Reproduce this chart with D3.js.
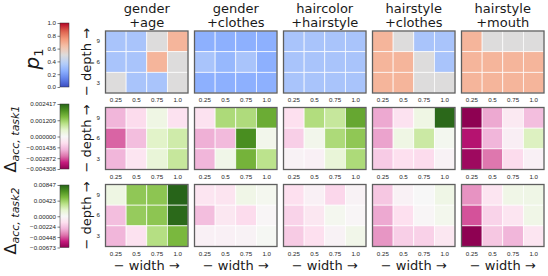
<!DOCTYPE html>
<html>
<head>
<meta charset="utf-8">
<script src="https://cdn.jsdelivr.net/npm/d3@7"></script>
<style>
  body { margin: 0; background: #fff; }
  svg { display: block; font-family: "DejaVu Sans", sans-serif; }
  .axis text { fill: #262626; font-size: 6.2px; }
  .axis .domain { display: none; }
  .cbar-axis line { stroke: #262626; stroke-width: 0.6; }
</style>
</head>
<body>
<div id="chart"></div>
<script>
// ---- data ----
const PANEL_TITLES = [
  ['gender', '+age'],
  ['gender', '+clothes'],
  ['haircolor', '+hairstyle'],
  ['hairstyle', '+clothes'],
  ['hairstyle', '+mouth']
];
const WIDTH_TICKS = ['0.25', '0.5', '0.75', '1.0'];
const DEPTH_TICKS = ['9', '6', '3']; // top -> bottom

// one matrix per panel, rows = depth 9,6,3 ; cols = width 0.25..1.0
const p1Values = [
  [[0.33, 0.33, 0.5, 0.67], [0.33, 0.33, 0.67, 0.5], [0.5, 0.33, 0.33, 0.5]],
  [[0.25, 0.25, 0.25, 0.25], [0.33, 0.28, 0.33, 0.25], [0.25, 0.25, 0.25, 0.25]],
  [[0.33, 0.33, 0.33, 0.33], [0.33, 0.33, 0.33, 0.33], [0.33, 0.33, 0.33, 0.33]],
  [[0.67, 0.5, 0.33, 0.33], [0.67, 0.67, 0.5, 0.33], [0.67, 0.67, 0.5, 0.5]],
  [[0.67, 0.5, 0.5, 0.5], [0.67, 0.67, 0.67, 0.67], [0.67, 0.67, 0.67, 0.67]]
];

const task1Values = [
  [[-0.00172, -0.00095, 0.00024, -0.00078], [-0.00276, -0.00155, 0.00053, 0.00073], [-0.00172, -0.00069, 0.00039, 0.00082]],
  [[-0.00078, 0.00106, 0.00104, 0.00164], [-0.00181, -0.00164, 0.00198, 0.00015], [-0.00172, 0.00019, 0.00155, 0.00092]],
  [[-0.00086, 0.00102, 0.00082, 0.00169], [-0.00121, 0.00015, 0.00106, 0.00131], [-0.00017, -0.00026, 0.00039, 0.00106]],
  [[-0.00190, -0.00078, 0.00024, 0.00237], [-0.00198, 0.00024, 0.00077, 0.00010], [-0.00129, -0.00086, -0.00095, -0.00017]],
  [[-0.004308, -0.00190, -0.00052, -0.00155], [-0.00370, -0.00172, -0.00034, 0.00058], [-0.00405, -0.00258, -0.00095, -0.00026]]
];

const task2Values = [
  [[0.00085, 0.00457, 0.00466, 0.00847], [-0.00242, 0.00440, 0.00466, 0.00830], [-0.00269, -0.00121, 0.00347, 0.00525]],
  [[-0.00108, -0.00114, 0.00068, 0.00034], [-0.00242, -0.00094, -0.00148, -0.00013], [-0.00040, -0.00040, -0.00027, 0.00017]],
  [[-0.00135, -0.00040, -0.00162, -0.00027], [-0.00175, -0.00094, 0.00034, -0.00013], [-0.00202, -0.00135, -0.00027, 0.00059]],
  [[-0.00215, -0.00034, 0.00000, 0.00076], [-0.00296, -0.00135, -0.00013, 0.00042], [-0.00337, -0.00188, -0.00182, -0.00094]],
  [[-0.00343, -0.00108, 0.00068, 0.00076], [-0.00458, -0.00175, -0.00108, 0.00068], [-0.00673, -0.00215, -0.00269, -0.00108]]
];

const p1CbarTicks = [0.0, 0.2, 0.4, 0.6, 0.8, 1.0];
const task1CbarTicks = [0.002417, 0.001209, 0.0, -0.001436, -0.002872, -0.004308];
const task2CbarTicks = [0.00847, 0.00423, 0.0, -0.00224, -0.00448, -0.00673];
const task1Range = [-0.004308, 0.002417];
const task2Range = [-0.00673, 0.00847];

// ---- colormaps (matplotlib coolwarm / PiYG) ----
const COOLWARM = ['#3b4cc0', '#6282ea', '#8db0fe', '#b8d0f9', '#dddcdc', '#f5c4ad', '#f49a7b', '#de604d', '#b40426'];
const PIYG = ['#8e0152', '#c51b7d', '#de77ae', '#f1b6da', '#fde0ef', '#f7f7f7', '#e6f5d0', '#b8e186', '#7fbc41', '#4d9221', '#276419'];
const coolwarm = d3.piecewise(d3.interpolateRgb, COOLWARM);
const piyg = d3.piecewise(d3.interpolateRgb, PIYG);

// ---- layout ----
const W = 548, H = 276;
const PANEL_X0 = 105.5, PANEL_STEP = 89, PANEL_W = 82.5, PANEL_H = 62;
const ROW_Y = [31, 107.5, 184.5];
const CB_X = 60, CB_W = 9;
const CB_Y = [[23, 87], [104, 169], [185, 247.5]];

const svg = d3.select('#chart').append('svg')
  .attr('width', W)
  .attr('height', H);
const defs = svg.append('defs');

const fmtMinus = s => s.replace('-', '\u2212');

const rows = [
  {
    values: p1Values,
    color: d3.scaleSequential(coolwarm).domain([0, 1]),
    interp: coolwarm,
    cbDomain: [0, 1],
    ticks: p1CbarTicks,
    fmt: d => d.toFixed(1)
  },
  {
    values: task1Values,
    color: d3.scaleDiverging(piyg).domain([task1Range[0], 0, task1Range[1]]),
    interp: piyg,
    cbDomain: [task1Range[0], 0, task1Range[1]],
    ticks: task1CbarTicks,
    fmt: d => fmtMinus(d.toFixed(6))
  },
  {
    values: task2Values,
    color: d3.scaleDiverging(piyg).domain([task2Range[0], 0, task2Range[1]]),
    interp: piyg,
    cbDomain: [task2Range[0], 0, task2Range[1]],
    ticks: task2CbarTicks,
    fmt: d => fmtMinus(d.toFixed(5))
  }
];

const x = d3.scaleBand().domain(WIDTH_TICKS).range([0, PANEL_W]);
const y = d3.scaleBand().domain(DEPTH_TICKS).range([0, PANEL_H]);

rows.forEach((row, ri) => {
  const top = ROW_Y[ri];

  row.values.forEach((mat, pi) => {
    const g = svg.append('g')
      .attr('transform', `translate(${PANEL_X0 + pi * PANEL_STEP},${top})`);

    const cells = [];
    mat.forEach((r, i) => r.forEach((v, j) => cells.push({ d: DEPTH_TICKS[i], w: WIDTH_TICKS[j], v })));

    g.selectAll('rect.cell')
      .data(cells)
      .join('rect')
      .attr('class', 'cell')
      .attr('x', d => x(d.w))
      .attr('y', d => y(d.d))
      .attr('width', x.bandwidth())
      .attr('height', y.bandwidth())
      .attr('fill', d => row.color(d.v))
      .attr('stroke', '#fff')
      .attr('stroke-opacity', 0.85)
      .attr('stroke-width', 0.8);

    g.append('rect')
      .attr('width', PANEL_W)
      .attr('height', PANEL_H)
      .attr('fill', 'none')
      .attr('stroke', '#5e5e5e')
      .attr('stroke-width', 1.3);

    g.append('g')
      .attr('class', 'axis')
      .attr('transform', `translate(0,${PANEL_H})`)
      .call(d3.axisBottom(x).tickSize(0).tickPadding(5));

    if (pi === 0) {
      g.append('g')
        .attr('class', 'axis')
        .call(d3.axisLeft(y).tickSize(0).tickPadding(5.5));
    }

    if (ri === 0) {
      PANEL_TITLES[pi].forEach((line, li) => {
        svg.append('text')
          .attr('x', PANEL_X0 + pi * PANEL_STEP + PANEL_W / 2)
          .attr('y', 12.5 + li * 14)
          .attr('text-anchor', 'middle')
          .attr('font-size', 13)
          .attr('fill', '#1a1a1a')
          .text(line);
      });
    }
    if (ri === 2) {
      svg.append('text')
        .attr('x', PANEL_X0 + pi * PANEL_STEP + PANEL_W / 2)
        .attr('y', 269.5)
        .attr('text-anchor', 'middle')
        .attr('font-size', 13)
        .attr('fill', '#1a1a1a')
        .text('\u2212 width \u2192');
    }
  });

  // depth label
  svg.append('text')
    .attr('transform', `translate(91,${top + PANEL_H / 2}) rotate(-90)`)
    .attr('text-anchor', 'middle')
    .attr('font-size', 13)
    .attr('fill', '#1a1a1a')
    .text('\u2212 depth \u2192');

  // colorbar
  const [cbTop, cbBot] = CB_Y[ri];
  const gradId = `cb-grad-${ri}`;
  const grad = defs.append('linearGradient')
    .attr('id', gradId)
    .attr('x1', 0).attr('y1', 1).attr('x2', 0).attr('y2', 0);
  d3.range(0, 1.0001, 0.05).forEach(t => {
    grad.append('stop').attr('offset', t).attr('stop-color', row.interp(t));
  });
  svg.append('rect')
    .attr('x', CB_X).attr('y', cbTop)
    .attr('width', CB_W).attr('height', cbBot - cbTop)
    .attr('fill', `url(#${gradId})`)
    .attr('stroke', '#333')
    .attr('stroke-width', 0.5);

  const cbRange = row.cbDomain.length === 2 ? [cbBot, cbTop] : [cbBot, (cbTop + cbBot) / 2, cbTop];
  const cbScale = d3.scaleLinear().domain(row.cbDomain).range(cbRange);
  svg.append('g')
    .attr('class', 'axis cbar-axis')
    .attr('transform', `translate(${CB_X},0)`)
    .call(d3.axisLeft(cbScale).tickValues(row.ticks).tickFormat(row.fmt).tickSize(2.5).tickPadding(1.5));
});

// row labels
svg.append('text')
  .attr('transform', 'translate(39,59) rotate(-90)')
  .attr('text-anchor', 'middle')
  .attr('fill', '#1a1a1a')
  .call(t => {
    t.append('tspan').attr('font-size', 20).attr('font-style', 'italic').text('p');
    t.append('tspan').attr('font-size', 13).attr('dy', 4).text('1');
  });

[['task1', 139], ['task2', 221]].forEach(([lbl, cy]) => {
  svg.append('text')
    .attr('transform', `translate(15.5,${cy}) rotate(-90)`)
    .attr('text-anchor', 'middle')
    .attr('fill', '#1a1a1a')
    .call(t => {
      t.append('tspan').attr('font-size', 16).text('\u0394');
      t.append('tspan').attr('font-size', 11).attr('font-style', 'italic').attr('dy', 3).text(`acc, ${lbl}`);
    });
});
</script>
</body>
</html>
